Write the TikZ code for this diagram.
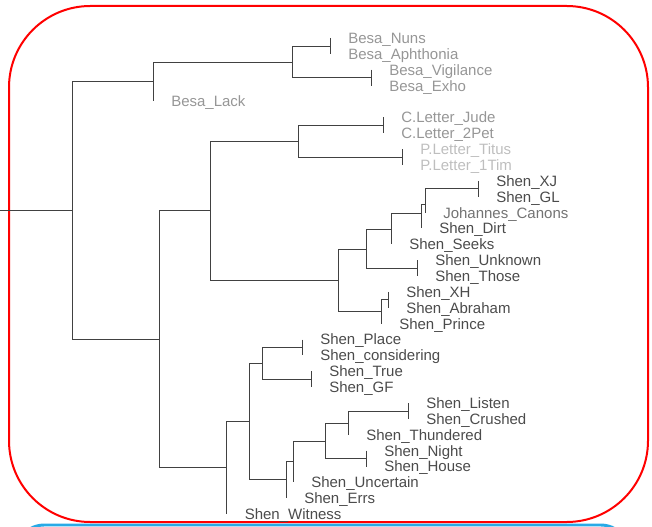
\documentclass[tikz,border=0pt]{standalone}
\usepackage{fontspec}
\setmainfont{Liberation Sans}
\definecolor{besa}{RGB}{150,150,150}
\definecolor{pletter}{RGB}{190,190,190}
\definecolor{shen}{RGB}{75,75,75}
\definecolor{johan}{RGB}{115,115,115}
\definecolor{branch}{RGB}{65,65,65}
\definecolor{boxblue}{RGB}{40,170,230}
\tikzset{
  lab/.style={anchor=base west, inner sep=0pt, xshift=13.5pt, yshift=-4.1pt,
    font=\fontsize{11.25pt}{13pt}\selectfont, text=shen},
  br/.style={draw=branch, line width=0.65pt},
  redbox/.style={draw=red, line width=1.5pt, rounded corners=61pt},
  bluebox/.style={draw=boxblue, line width=2.2pt, rounded corners=22pt}
}
\begin{document}
\begin{tikzpicture}[x=0.75pt,y=-0.75pt]
\useasboundingbox (0,0) rectangle (652,527);
\clip (0,0) rectangle (652,527);
% frames
\draw[bluebox] (15,525) rectangle (630,640);
\draw[redbox] (9,6) rectangle (648,522);
% internal nodes
\coordinate (rootstub) at (0,210);
\coordinate (R) at (72,210);
\coordinate (B1) at (153,81);
\coordinate (B2) at (292,62);
\coordinate (T1) at (330,46);
\coordinate (T2) at (371,77.7);
\coordinate (N1) at (159,339);
\coordinate (N2) at (210,210);
\coordinate (N3) at (226.5,467);
\coordinate (L1) at (298,141);
\coordinate (T3) at (383,125.3);
\coordinate (T4) at (402,157);
\coordinate (S1) at (338,280);
\coordinate (S2) at (366,249);
\coordinate (S3) at (381,311);
\coordinate (S4) at (391,229);
\coordinate (S5) at (421,213);
\coordinate (S6) at (425,204);
\coordinate (T5) at (417,268.1);
\coordinate (T6) at (478,188.8);
\coordinate (T7) at (388,299.9);
\coordinate (P1) at (249,421);
\coordinate (P2) at (262,363);
\coordinate (P3) at (286,479);
\coordinate (P4) at (293,461);
\coordinate (P5) at (325,441);
\coordinate (P6) at (348,423);
\coordinate (T8) at (302,347.4);
\coordinate (T9) at (311,379.2);
\coordinate (T10) at (366,458.6);
\coordinate (T11) at (408,411);
% leaf tips
\coordinate (nuns) at (330,38);
\coordinate (aph) at (330,53.9);
\coordinate (vig) at (371,69.7);
\coordinate (exho) at (371,85.6);
\coordinate (lack) at (153,101.5);
\coordinate (jude) at (383,117.4);
\coordinate (pet) at (383,133.2);
\coordinate (titus) at (402,149.1);
\coordinate (tim) at (402,165);
\coordinate (xj) at (478,180.8);
\coordinate (gl) at (478,196.7);
\coordinate (johannes) at (425,212.6);
\coordinate (dirt) at (421,228.4);
\coordinate (seeks) at (391,244.3);
\coordinate (unknown) at (417,260.2);
\coordinate (those) at (417,276.1);
\coordinate (xh) at (388,291.9);
\coordinate (abraham) at (388,307.8);
\coordinate (prince) at (381,323.7);
\coordinate (place) at (302,339.5);
\coordinate (considering) at (302,355.4);
\coordinate (true) at (311,371.3);
\coordinate (gf) at (311,387.1);
\coordinate (listen) at (408,403);
\coordinate (crushed) at (408,418.9);
\coordinate (thundered) at (348,434.8);
\coordinate (night) at (366,450.6);
\coordinate (house) at (366,466.5);
\coordinate (uncertain) at (293,482.4);
\coordinate (errs) at (286,498.2);
\coordinate (witness) at (226.5,514.1);
% branches
\draw[br] (rootstub) -- (R);
\draw[br] (R) |- (B1); \draw[br] (R) |- (N1);
\draw[br] (B1) |- (B2); \draw[br] (B1) |- (lack);
\draw[br] (B2) |- (T1); \draw[br] (B2) |- (T2);
\draw[br] (N1) |- (N2); \draw[br] (N1) |- (N3);
\draw[br] (N2) |- (L1); \draw[br] (N2) |- (S1);
\draw[br] (L1) |- (T3); \draw[br] (L1) |- (T4);
\draw[br] (S1) |- (S2); \draw[br] (S1) |- (S3);
\draw[br] (S2) |- (S4); \draw[br] (S2) |- (T5);
\draw[br] (S4) |- (S5); \draw[br] (S4) |- (seeks);
\draw[br] (S5) |- (S6); \draw[br] (S5) |- (dirt);
\draw[br] (S6) |- (T6); \draw[br] (S6) |- (johannes);
\draw[br] (S3) |- (T7); \draw[br] (S3) |- (prince);
\draw[br] (N3) |- (P1); \draw[br] (N3) |- (witness);
\draw[br] (P1) |- (P2); \draw[br] (P1) |- (P3);
\draw[br] (P2) |- (T8); \draw[br] (P2) |- (T9);
\draw[br] (P3) |- (P4); \draw[br] (P3) |- (errs);
\draw[br] (P4) |- (P5); \draw[br] (P4) |- (uncertain);
\draw[br] (P5) |- (P6); \draw[br] (P5) |- (T10);
\draw[br] (P6) |- (T11); \draw[br] (P6) |- (thundered);
% ticks for zero-length pairs
\draw[br] (nuns) -- (aph);
\draw[br] (vig) -- (exho);
\draw[br] (jude) -- (pet);
\draw[br] (titus) -- (tim);
\draw[br] (xj) -- (gl);
\draw[br] (unknown) -- (those);
\draw[br] (xh) -- (abraham);
\draw[br] (place) -- (considering);
\draw[br] (true) -- (gf);
\draw[br] (listen) -- (crushed);
\draw[br] (night) -- (house);
% labels
\node[lab, text=besa] (lnuns) at (nuns) {Besa\_Nuns};
\node[lab, text=besa] (laph) at (aph) {Besa\_Aphthonia};
\node[lab, text=besa] (lvig) at (vig) {Besa\_Vigilance};
\node[lab, text=besa] (lexho) at (exho) {Besa\_Exho};
\node[lab, text=besa] (llack) at (lack) {Besa\_Lack};
\node[lab, text=besa] (ljude) at (jude) {C.Letter\_Jude};
\node[lab, text=besa] (lpet) at (pet) {C.Letter\_2Pet};
\node[lab, text=pletter] (ltitus) at (titus) {P.Letter\_Titus};
\node[lab, text=pletter] (ltim) at (tim) {P.Letter\_1Tim};
\node[lab] (lxj) at (xj) {Shen\_XJ};
\node[lab] (lgl) at (gl) {Shen\_GL};
\node[lab, text=johan] (ljohannes) at (johannes) {Johannes\_Canons};
\node[lab] (ldirt) at (dirt) {Shen\_Dirt};
\node[lab] (lseeks) at (seeks) {Shen\_Seeks};
\node[lab] (lunknown) at (unknown) {Shen\_Unknown};
\node[lab] (lthose) at (those) {Shen\_Those};
\node[lab] (lxh) at (xh) {Shen\_XH};
\node[lab] (labraham) at (abraham) {Shen\_Abraham};
\node[lab] (lprince) at (prince) {Shen\_Prince};
\node[lab] (lplace) at (place) {Shen\_Place};
\node[lab] (lconsidering) at (considering) {Shen\_considering};
\node[lab] (ltrue) at (true) {Shen\_True};
\node[lab] (lgf) at (gf) {Shen\_GF};
\node[lab] (llisten) at (listen) {Shen\_Listen};
\node[lab] (lcrushed) at (crushed) {Shen\_Crushed};
\node[lab] (lthundered) at (thundered) {Shen\_Thundered};
\node[lab] (lnight) at (night) {Shen\_Night};
\node[lab] (lhouse) at (house) {Shen\_House};
\node[lab] (luncertain) at (uncertain) {Shen\_Uncertain};
\node[lab] (lerrs) at (errs) {Shen\_Errs};
\node[lab] (lwitness) at (witness) {Shen\_Witness};
\end{tikzpicture}
\end{document}
